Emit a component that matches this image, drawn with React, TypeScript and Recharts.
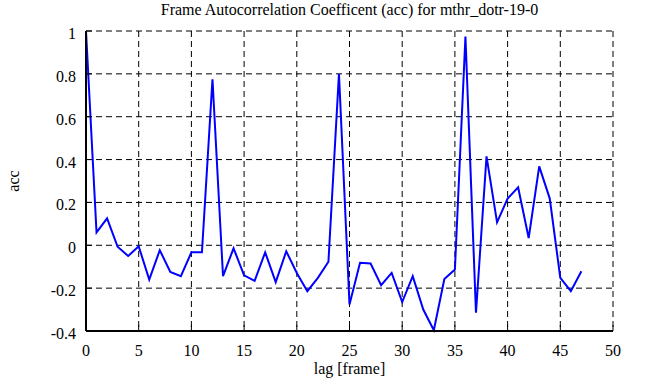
import { LineChart, Line, XAxis, YAxis, CartesianGrid } from 'recharts';

const lags = [
  0, 1, 2, 3, 4, 5, 6, 7, 8, 9, 10, 11, 12, 13, 14, 15, 16, 17, 18, 19, 20, 21, 22, 23,
  24, 25, 26, 27, 28, 29, 30, 31, 32, 33, 34, 35, 36, 37, 38, 39, 40, 41, 42, 43, 44, 45, 46, 47,
];

const accValues = [
  1.0, 0.06, 0.126, -0.007, -0.05, -0.005, -0.16, -0.023, -0.124, -0.144, -0.033, -0.033,
  0.775, -0.144, -0.014, -0.14, -0.166, -0.033, -0.172, -0.028, -0.129, -0.214, -0.152, -0.077,
  0.8, -0.276, -0.082, -0.085, -0.186, -0.129, -0.265, -0.144, -0.3, -0.396, -0.157, -0.113,
  0.974, -0.315, 0.415, 0.107, 0.218, 0.27, 0.034, 0.368, 0.218, -0.152, -0.214, -0.121,
];

const xTicks = [0, 5, 10, 15, 20, 25, 30, 35, 40, 45, 50];
const yTicks = [-0.4, -0.2, 0, 0.2, 0.4, 0.6, 0.8, 1];

const data = lags.map((lag, i) => ({ lag, acc: accValues[i] }));

const FONT = 'Liberation Serif';
const TICK_LEN = 6;

const BottomTick = ({ x, y, payload }: any) => (
  <g>
    <line x1={x} y1={y} x2={x} y2={y - TICK_LEN} stroke="#000" strokeWidth={1} />
    <text
      x={x}
      y={y + 25}
      textAnchor="middle"
      fontFamily={FONT}
      fontSize={16}
      style={{ fontFamily: FONT }}
      fill="#000"
    >
      {payload.value}
    </text>
  </g>
);

const TopTick = ({ x, y }: any) => (
  <line x1={x} y1={y} x2={x} y2={y + TICK_LEN} stroke="#000" strokeWidth={1} />
);

const LeftTick = ({ x, y, payload }: any) => (
  <g>
    <line x1={x} y1={y} x2={x + TICK_LEN} y2={y} stroke="#000" strokeWidth={1} />
    <text
      x={x - 10}
      y={y + 8}
      textAnchor="end"
      fontFamily={FONT}
      fontSize={16}
      style={{ fontFamily: FONT }}
      fill="#000"
    >
      {String(payload.value)}
    </text>
  </g>
);

const RightTick = ({ x, y }: any) => (
  <line x1={x} y1={y} x2={x - TICK_LEN} y2={y} stroke="#000" strokeWidth={1} />
);

export default function App() {
  const axisLine = { stroke: '#000', strokeWidth: 2 };
  return (
    <div style={{ position: 'absolute', left: 0, top: 0, width: 646, height: 387, background: '#fff', fontFamily: FONT }}>
      <div
        style={{
          position: 'absolute', top: 0, left: 86, width: 527, textAlign: 'center',
          fontSize: 16, lineHeight: '20px', color: '#000',
        }}
      >
        Frame Autocorrelation Coefficent (acc) for mthr_dotr-19-0
      </div>
      <div
        style={{
          position: 'absolute', left: 14, top: 181, fontSize: 16, color: '#000',
          transform: 'translate(-50%, -50%) rotate(-90deg)', whiteSpace: 'nowrap', lineHeight: '20px',
        }}
      >
        acc
      </div>
      <div
        style={{
          position: 'absolute', top: 359, left: 86, width: 527, textAlign: 'center',
          fontSize: 16, lineHeight: '20px', color: '#000',
        }}
      >
        lag [frame]
      </div>
      <LineChart
        width={646}
        height={387}
        data={data}
        margin={{ top: 31, right: 33, left: 0, bottom: 0 }}
        style={{ position: 'absolute', left: 0, top: 0, fontFamily: FONT }}
      >
        <CartesianGrid
          xAxisId="b"
          yAxisId="l"
          stroke="#000"
          strokeWidth={1}
          strokeDasharray="6 4"
        />
        <XAxis
          xAxisId="b"
          dataKey="lag"
          type="number"
          domain={[0, 50]}
          ticks={xTicks}
          orientation="bottom"
          height={56}
          tickSize={0}
          tickMargin={0}
          axisLine={axisLine}
          tickLine={false}
          tick={BottomTick}
          interval={0}
        />
        <XAxis
          xAxisId="t"
          dataKey="lag"
          type="number"
          domain={[0, 50]}
          ticks={xTicks}
          orientation="top"
          height={0}
          tickSize={0}
          tickMargin={0}
          axisLine={axisLine}
          tickLine={false}
          tick={TopTick}
          interval={0}
        />
        <YAxis
          yAxisId="l"
          type="number"
          domain={[-0.4, 1]}
          ticks={yTicks}
          orientation="left"
          width={86}
          tickSize={0}
          tickMargin={0}
          axisLine={axisLine}
          tickLine={false}
          tick={LeftTick}
          interval={0}
        />
        <YAxis
          yAxisId="r"
          type="number"
          domain={[-0.4, 1]}
          ticks={yTicks}
          orientation="right"
          width={0}
          tickSize={0}
          tickMargin={0}
          axisLine={axisLine}
          tickLine={false}
          tick={RightTick}
          interval={0}
        />
        <Line
          xAxisId="b"
          yAxisId="l"
          type="linear"
          dataKey="acc"
          stroke="#0000ff"
          strokeWidth={2}
          dot={false}
          isAnimationActive={false}
        />
      </LineChart>
    </div>
  );
}
